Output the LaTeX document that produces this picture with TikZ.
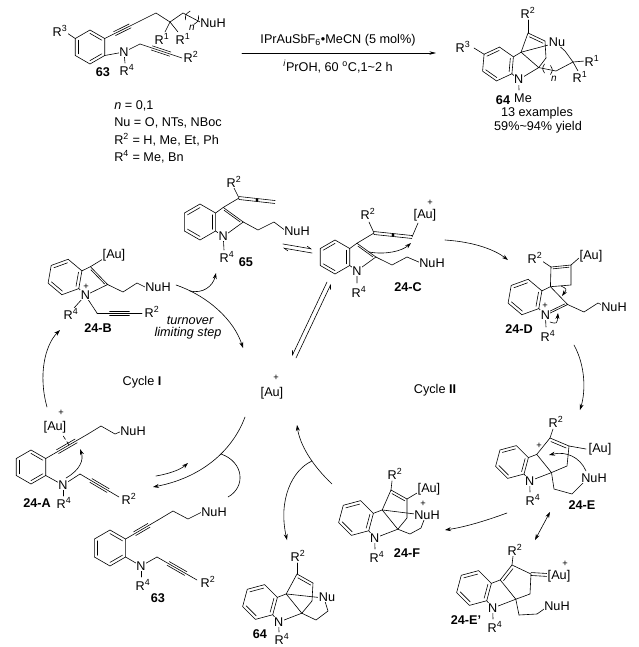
\documentclass[tikz,border=0pt]{standalone}
\usepackage{fontspec}
\setmainfont{Liberation Sans}
\usetikzlibrary{calc,arrows.meta}
\newcommand\Rg[1]{R\textsuperscript{#1}}
\newcommand\inb[3]{\draw ($(#1)!.2!(#3)$) -- ($(#2)!.2!(#3)$);}
\newcommand\trip[2]{\draw (#1)--(#2);
  \draw ($(#1)!.28!(#2)!1.6pt!90:(#2)$) -- ($(#1)!.72!(#2)!1.6pt!90:(#2)$);
  \draw ($(#1)!.28!(#2)!1.6pt!-90:(#2)$) -- ($(#1)!.72!(#2)!1.6pt!-90:(#2)$);}
\newcommand\dbl[2]{%
  \draw ($(#1)!1.1pt!90:(#2)$) -- ($(#2)!1.1pt!-90:(#1)$);
  \draw ($(#1)!1.1pt!-90:(#2)$) -- ($(#2)!1.1pt!90:(#1)$);}
\newcommand\hexr[5]{%
  \coordinate (#1-c) at (#2,#3);
  \foreach \k in {0,...,5}{\coordinate (#1-\k) at ($(#1-c)+({#4+60*\k}:#5)$);}
  \draw (#1-0)--(#1-1)--(#1-2)--(#1-3)--(#1-4)--(#1-5)--cycle;
  \inb{#1-0}{#1-1}{#1-c}\inb{#1-2}{#1-3}{#1-c}\inb{#1-4}{#1-5}{#1-c}}
\newcommand\indo[6]{%
  \coordinate (#1-c) at (#2,#3);
  \coordinate (#1-7a) at ($(#1-c)+({#4+30}:#5)$);
  \coordinate (#1-7) at ($(#1-c)+({#4+90}:#5)$);
  \coordinate (#1-6) at ($(#1-c)+({#4+150}:#5)$);
  \coordinate (#1-5) at ($(#1-c)+({#4+210}:#5)$);
  \coordinate (#1-4) at ($(#1-c)+({#4+270}:#5)$);
  \coordinate (#1-3a) at ($(#1-c)+({#4+330}:#5)$);
  \coordinate (#1-P) at ($(#1-c)+(#4:{1.5542*#5})$);
  \coordinate (#1-3) at ($(#1-P)+({#4-108}:{0.8507*#5})$);
  \coordinate (#1-2) at ($(#1-P)+(#4:{0.8507*#5})$);
  \coordinate (#1-n) at ($(#1-P)+({#4+108}:{0.8507*#5})$);
  \draw (#1-7a)--(#1-7)--(#1-6)--(#1-5)--(#1-4)--(#1-3a)--cycle;
  \draw (#1-3a)--(#1-3)--(#1-2)--(#1-n)--(#1-7a);
  \inb{#1-7}{#1-6}{#1-c}\inb{#1-5}{#1-4}{#1-c}\inb{#1-3a}{#1-7a}{#1-c}%
  \ifnum#6=1 \inb{#1-3}{#1-2}{#1-P}\fi
  \ifnum#6=2 \inb{#1-2}{#1-n}{#1-P}\fi}
\begin{document}
\begin{tikzpicture}[x=0.75pt,y=-0.75pt,line width=0.45pt,line cap=round,
  font=\fontsize{9.5}{11}\selectfont,
  lab/.style={fill=white,inner sep=0.4pt},
  pl/.style={inner sep=0pt,font=\fontsize{7}{8}\selectfont},
  bl/.style={inner sep=0.5pt,font=\fontsize{9.5}{11}\selectfont\bfseries},
  ar/.style={-{Stealth[length=4.5pt,width=3pt]}},
  harl/.style={-{Straight Barb[left,length=3pt,width=3pt]}},
  harr/.style={-{Straight Barb[right,length=3pt,width=3pt]}}]
\useasboundingbox (0,0) rectangle (639,647);
\fill[white] (0,0) rectangle (639,647);

% ===== 63 (top)
\hexr{a}{90}{47}{-90}{17}
\draw (a-5) -- (67,33);
\coordinate (a-y1) at (140,21);
\trip{a-1}{a-y1}
\coordinate (a-b1) at (156,13); \coordinate (a-q) at (170,22);
\coordinate (a-b2) at (183,13); \coordinate (a-nu) at (202,23);
\draw (a-y1)--(a-b1)--(a-q)--(a-b2)--(a-nu);
\draw (a-q) -- (165,32); \draw (a-q) -- (178,32);
\draw (190.1,11.1) .. controls (185.5,14.3) .. (185.4,19.9);
\draw (198.6,15.6) .. controls (198.5,21.2) .. (193.9,24.4);
\coordinate (a-n) at (124,52);
\draw (a-2)--(a-n); \draw (a-n) -- (125,63);
\coordinate (a-ch) at (140,44); \coordinate (a-y2) at (182,58);
\draw (a-n)--(a-ch); \trip{a-ch}{a-y2}
\node[lab] (a-R3) at (60,31) {\Rg3};
\node[lab] (a-NuH) at (213,23) {NuH};
\node[pl,font=\fontsize{7.5}{8}\selectfont\itshape] (a-nn) at (192,28) {n};
\node[lab] (a-R1a) at (162,39) {\Rg1};
\node[lab] (a-R1b) at (183,39) {\Rg1};
\node[lab] (a-N) at (a-n) {N};
\node[lab] (a-R4) at (127,70) {\Rg4};
\node[lab] (a-R2) at (191,57) {\Rg2};
\node[bl] (a-lab) at (103,72) {63};
\node[anchor=west,inner sep=0pt] (a-t1) at (114,106) {\textit{n} = 0,1};
\node[anchor=west,inner sep=0pt] (a-t2) at (114,123) {Nu = O, NTs, NBoc};
\node[anchor=west,inner sep=0pt] (a-t3) at (114,140) {\Rg2 = H, Me, Et, Ph};
\node[anchor=west,inner sep=0pt] (a-t4) at (114,157) {\Rg4 = Me, Bn};

% ===== reaction arrow
\coordinate (rx-a) at (242,53); \coordinate (rx-b) at (436,53);
\draw[-{Stealth[length=5pt,width=2.6pt]}] (rx-a) -- (rx-b);
\node (rx-t1) at (338,40) {IPrAuSbF\textsubscript{6}\textbullet MeCN (5 mol\%)};
\node (rx-t2) at (338,67) {\textsuperscript{\itshape i}PrOH, 60 \textsuperscript{o}C,1\textasciitilde 2 h};

% ===== 64 (top)
\indo{b}{498}{64}{5}{17}{0}
\draw (b-5) -- (474,48);
\coordinate (b-ca) at (528,33); \coordinate (b-cb) at (545,41);
\coordinate (b-cc) at (546,58); \coordinate (b-rc) at (535,52);
\draw (b-3)--(b-ca)--(b-cb)--(b-cc)--(b-2);
\inb{b-ca}{b-cb}{b-rc}
\draw (b-ca) -- (528,20);
\coordinate (b-nu) at (556,43);
\draw (b-3) -- (b-nu);
\coordinate (b-d) at (565,51); \coordinate (b-e) at (573,62); \coordinate (b-f) at (556,71);
\draw (b-nu) -- (b-d) -- (b-e); \draw (b-e) -- (585,61); \draw (b-e) -- (578,71);
\draw (b-2) -- (b-f) -- (b-e);
\draw (544.5,64) .. controls (542,68.5) .. (544.5,73);
\draw (550.5,65.5) .. controls (553,70) .. (550.5,74.5);
\draw (b-n) -- (519,90);
\node[lab] (b-R3) at (463,47) {\Rg3};
\node[lab] (b-N) at (b-n) {N};
\node[lab] (b-Nu) at (557,42) {Nu};
\node[lab] (b-R2) at (528,13) {\Rg2};
\node[lab] (b-R1a) at (592,61) {\Rg1};
\node[lab] (b-R1b) at (580,77) {\Rg1};
\node[pl,font=\fontsize{7.5}{8}\selectfont\itshape] (b-nn) at (554,79) {n};
\node[lab] (b-Me) at (523,98) {Me};
\node[bl] (b-lab) at (503,100) {64};
\node (b-t1) at (537,113) {13 examples};
\node (b-t2) at (538,127) {59\%\textasciitilde 94\% yield};

% ===== 65
\indo{c}{200}{222}{0}{18}{1}
\coordinate (c-v) at (239,198); \coordinate (c-d) at (257,200); \coordinate (c-e) at (275,202);
\draw (c-3)--(c-v); \dbl{c-v}{c-d}\dbl{c-d}{c-e}
\fill (c-d) circle (1.3pt);
\draw (c-v) -- (234,188);
\draw (c-2) -- (258,230) -- (274,222) -- (286,231);
\draw (c-n) -- (224,250);
\node[lab] (c-N) at (c-n) {N};
\node[lab] (c-R2) at (234,182) {\Rg2};
\node[lab] (c-NuH) at (297,231) {NuH};
\node[lab] (c-R4) at (227,257) {\Rg4};
\node[bl] (c-lab) at (246,262) {65};

% ===== 24-B
\indo{d}{65}{277}{10}{18}{1}
\draw (d-3) -- (103,259);
\draw (d-2) -- (123,292) -- (137,283) -- (147,288);
\draw (d-n) -- (74,308);
\coordinate (d-ch) at (97,313); \coordinate (d-y) at (142,313);
\draw (d-n) -- (d-ch); \trip{d-ch}{d-y}
\node[lab] (d-Au) at (114,255) {[Au]};
\node[lab] (d-NuH) at (158,287) {NuH};
\node[lab] (d-N) at (d-n) {N};
\node[pl] (d-pl) at (86,287) {+};
\node[lab] (d-R4) at (71,314) {\Rg4};
\node[lab] (d-R2) at (152,312) {\Rg2};
\node[bl] (d-lab) at (98,328) {24-B};
\node[font=\fontsize{9.5}{11}\selectfont\itshape] (d-t1) at (190,320) {turnover};
\node[font=\fontsize{9.5}{11}\selectfont\itshape] (d-t2) at (188,333) {limiting step};

% ===== 24-C
\indo{e}{335}{257}{0}{17}{1}
\coordinate (e-v) at (374,233); \coordinate (e-d) at (393,235); \coordinate (e-e) at (412,237);
\draw (e-3)--(e-v); \dbl{e-v}{e-d}\dbl{e-d}{e-e}
\fill (e-d) circle (1.3pt);
\draw (e-v) -- (369,222);
\draw (e-e) -- (418,223);
\draw (e-2) -- (392,265) -- (407,257) -- (421,263);
\draw (e-n) -- (357,283);
\draw[ar] (369,252) .. controls (386,255) and (402,251) .. (411,243);
\node[lab] (e-N) at (e-n) {N};
\node[lab] (e-R2) at (368,214) {\Rg2};
\node[lab] (e-Au) at (425,215) {[Au]};
\node[pl] (e-pl) at (430,203) {+};
\node[lab] (e-NuH) at (432,263) {NuH};
\node[lab] (e-R4) at (359,292) {\Rg4};
\node[bl] (e-lab) at (408,287) {24-C};

% ===== 24-D
\indo{f}{525}{297}{10}{18}{2}
\coordinate (f-q1) at (551,267); \coordinate (f-q2) at (571,265);
\coordinate (f-q3) at (571,285); \coordinate (f-qc) at (561,276);
\draw (f-3)--(f-q1)--(f-q2)--(f-q3)--(f-3);
\inb{f-q1}{f-q2}{f-qc}
\draw (f-q1) -- (542,261); \draw (f-q2) -- (579,258);
\draw (f-2) -- (584,312) -- (598,303) -- (606,307);
\draw (f-n) -- (546,327);
\draw[ar] (561,286) .. controls (567,289) .. (562,296);
\draw[ar] (550,322) .. controls (557,324) .. (558,313);
\node[lab] (f-N) at (f-n) {N};
\node[pl] (f-pl) at (545,306) {+};
\node[lab] (f-R2) at (535,258) {\Rg2};
\node[lab] (f-Au) at (591,256) {[Au]};
\node[lab] (f-NuH) at (614,307) {NuH};
\node[lab] (f-R4) at (548,336) {\Rg4};
\node[bl] (f-lab) at (519,329) {24-D};

% ===== central catalyst and cycle names
\node (au) at (272,393) {[Au]};
\node[pl] (au-pl) at (276,378) {+};
\node (cyc1) at (142,382) {Cycle \textbf{I}};
\node (cyc2) at (435,390) {Cycle \textbf{II}};

% ===== 24-A
\hexr{g}{31}{467}{-90}{17}
\coordinate (g-y) at (88,434); \trip{g-1}{g-y}
\draw (g-y) -- (101,426) -- (115,434) -- (122,431);
\draw[densely dashed] ($(g-1)!.55!(g-y)$) -- (62,434);
\coordinate (g-n) at (63,485); \draw (g-2) -- (g-n); \draw (g-n) -- (63,496);
\coordinate (g-ch) at (80,474); \coordinate (g-y2) at (119,497);
\draw (g-n) -- (g-ch); \trip{g-ch}{g-y2}
\draw[ar] (66,478) .. controls (80,470) and (84,460) .. (80,449);
\node[lab] (g-Au) at (55,427) {[Au]};
\node[pl] (g-pl) at (61,413) {+};
\node[lab] (g-NuH) at (133,431) {NuH};
\node[lab] (g-N) at (g-n) {N};
\node[lab] (g-R4) at (64,503) {\Rg4};
\node[lab] (g-R2) at (129,499) {\Rg2};
\node[bl] (g-lab) at (37,503) {24-A};

% ===== 63 (bottom)
\hexr{h}{110}{548}{-90}{18}
\coordinate (h-y) at (158,520); \trip{h-1}{h-y}
\draw (h-y) -- (173,511) -- (188,519) -- (202,512);
\coordinate (h-n) at (141,566); \draw (h-2) -- (h-n); \draw (h-n) -- (141,577);
\coordinate (h-ch) at (157,557); \coordinate (h-y2) at (197,580);
\draw (h-n) -- (h-ch); \trip{h-ch}{h-y2}
\node[lab] (h-NuH) at (214,512) {NuH};
\node[lab] (h-N) at (h-n) {N};
\node[lab] (h-R4) at (143,585) {\Rg4};
\node[lab] (h-R2) at (208,582) {\Rg2};
\node[bl] (h-lab) at (158,598) {63};

% ===== 64 (bottom)
\indo{k}{260}{602}{15}{18}{0}
\coordinate (k-a) at (297,574); \coordinate (k-b) at (313,583);
\coordinate (k-cc) at (312,601); \coordinate (k-rc) at (301,593);
\draw (k-3)--(k-a)--(k-b)--(k-cc)--(k-2);
\inb{k-a}{k-b}{k-rc}
\coordinate (k-nu) at (324,598);
\draw (k-3) -- (k-nu);
\draw (k-nu) -- (328,611) -- (316,620) -- (k-2);
\draw (k-a) -- (297,563);
\draw (k-n) -- (279,632);
\node[lab] (k-R2) at (298,556) {\Rg2};
\node[lab] (k-Nu) at (327,597) {Nu};
\node[lab] (k-N) at (k-n) {N};
\node[lab] (k-R4) at (282,639) {\Rg4};
\node[bl] (k-lab) at (260,634) {64};

% ===== 24-E
\indo{m}{512}{462}{15}{17}{0}
\coordinate (m-a) at (550,438); \coordinate (m-b) at (569,446);
\coordinate (m-cc) at (567,466); \coordinate (m-rc) at (555,456);
\draw (m-3)--(m-a)--(m-b)--(m-cc)--(m-2);
\inb{m-a}{m-b}{m-rc}
\draw (m-a) -- (553,429);
\draw (m-b) -- (586,449);
\draw (m-2) -- (554,489) -- (572,494) -- (584,482);
\draw (m-n) -- (530,492);
\draw[ar] (586,471) .. controls (580,457) and (566,451) .. (549,455);
\node[lab] (m-N) at (m-n) {N};
\node[pl] (m-pl) at (539,446) {+};
\node[lab] (m-R2) at (556,422) {\Rg2};
\node[lab] (m-Au) at (600,449) {[Au]};
\node[lab] (m-NuH) at (594,478) {NuH};
\node[lab] (m-R4) at (533,500) {\Rg4};
\node[bl] (m-lab) at (582,505) {24-E};

% ===== 24-E'
\indo{p}{474}{588}{15}{18}{0}
\coordinate (p-a) at (512,565); \coordinate (p-b) at (531,574);
\coordinate (p-cc) at (530,594); \coordinate (p-rc) at (517,583);
\draw (p-3)--(p-a)--(p-b)--(p-cc)--(p-2);
\inb{p-3}{p-a}{p-rc}
\coordinate (p-x) at (548,575);
\dbl{p-b}{p-x}
\draw (p-a) -- (513,556);
\draw (p-2) -- (519,615) -- (537,614) -- (547,607);
\draw (p-n) -- (493,619);
\node[lab] (p-N) at (p-n) {N};
\node[lab] (p-R2) at (515,550) {\Rg2};
\node[lab] (p-Au) at (559,576) {[Au]};
\node[pl] (p-pl) at (565,564) {+};
\node[lab] (p-NuH) at (557,606) {NuH};
\node[lab] (p-R4) at (495,627) {\Rg4};
\node[bl] (p-lab) at (466,620) {24-E'};

% ===== 24-F
\indo{q}{356}{518}{15}{18}{0}
\coordinate (q-a) at (391,490); \coordinate (q-b) at (407,499);
\coordinate (q-cc) at (407,518); \coordinate (q-rc) at (396,508);
\draw (q-3)--(q-a)--(q-b)--(q-cc)--(q-2);
\inb{q-a}{q-b}{q-rc}
\draw (q-3) -- (415,514);
\draw (q-a) -- (392,481);
\draw (q-b) -- (417,493);
\draw (q-2) -- (410,534) -- (421,528) -- (424,520);
\draw (q-n) -- (375,549);
\node[lab] (q-N) at (q-n) {N};
\node[lab] (q-R2) at (395,474) {\Rg2};
\node[lab] (q-Au) at (429,489) {[Au]};
\node[pl] (q-pl) at (423,504) {+};
\node[lab] (q-NuH) at (427,515) {NuH};
\node[lab] (q-R4) at (377,557) {\Rg4};
\node[bl] (q-lab) at (407,553) {24-F};

% ===== cycle arrows
\draw[ar] (47,407) .. controls (38,375) and (45,345) .. (60,330);
\draw[ar] (176,285) .. controls (208,296) and (234,320) .. (243,348);
\draw[ar] (190,291) .. controls (203,294) and (213,286) .. (216,273);
\draw[ar] (245,417) .. controls (232,452) and (200,478) .. (153,487);
\draw[ar] (156,476) .. controls (168,474) and (180,470) .. (188,463);
\draw (228,497) .. controls (246,487) and (244,462) .. (221,454);
\draw[ar] (332,484) .. controls (312,465) and (300,445) .. (297,425);
\draw[ar] (312,461) .. controls (292,470) and (278,500) .. (287,540);
\draw[harr] (327,282) -- (292,356);
\draw[harr] (296,358) -- (331,284);
\draw[harl] (283,244) -- (312,249);
\draw[harl] (312,253) -- (283,248);
\draw[ar] (445,240) .. controls (475,242) and (495,250) .. (508,260);
\draw[ar] (574,345) .. controls (585,365) and (586,390) .. (580,410);
\draw[ar] (507,513) .. controls (485,521) and (465,527) .. (445,530);
\draw[{Stealth[length=4.5pt,width=3pt]}-{Stealth[length=4.5pt,width=3pt]}] (550,512) -- (535,540);
\end{tikzpicture}
\end{document}
